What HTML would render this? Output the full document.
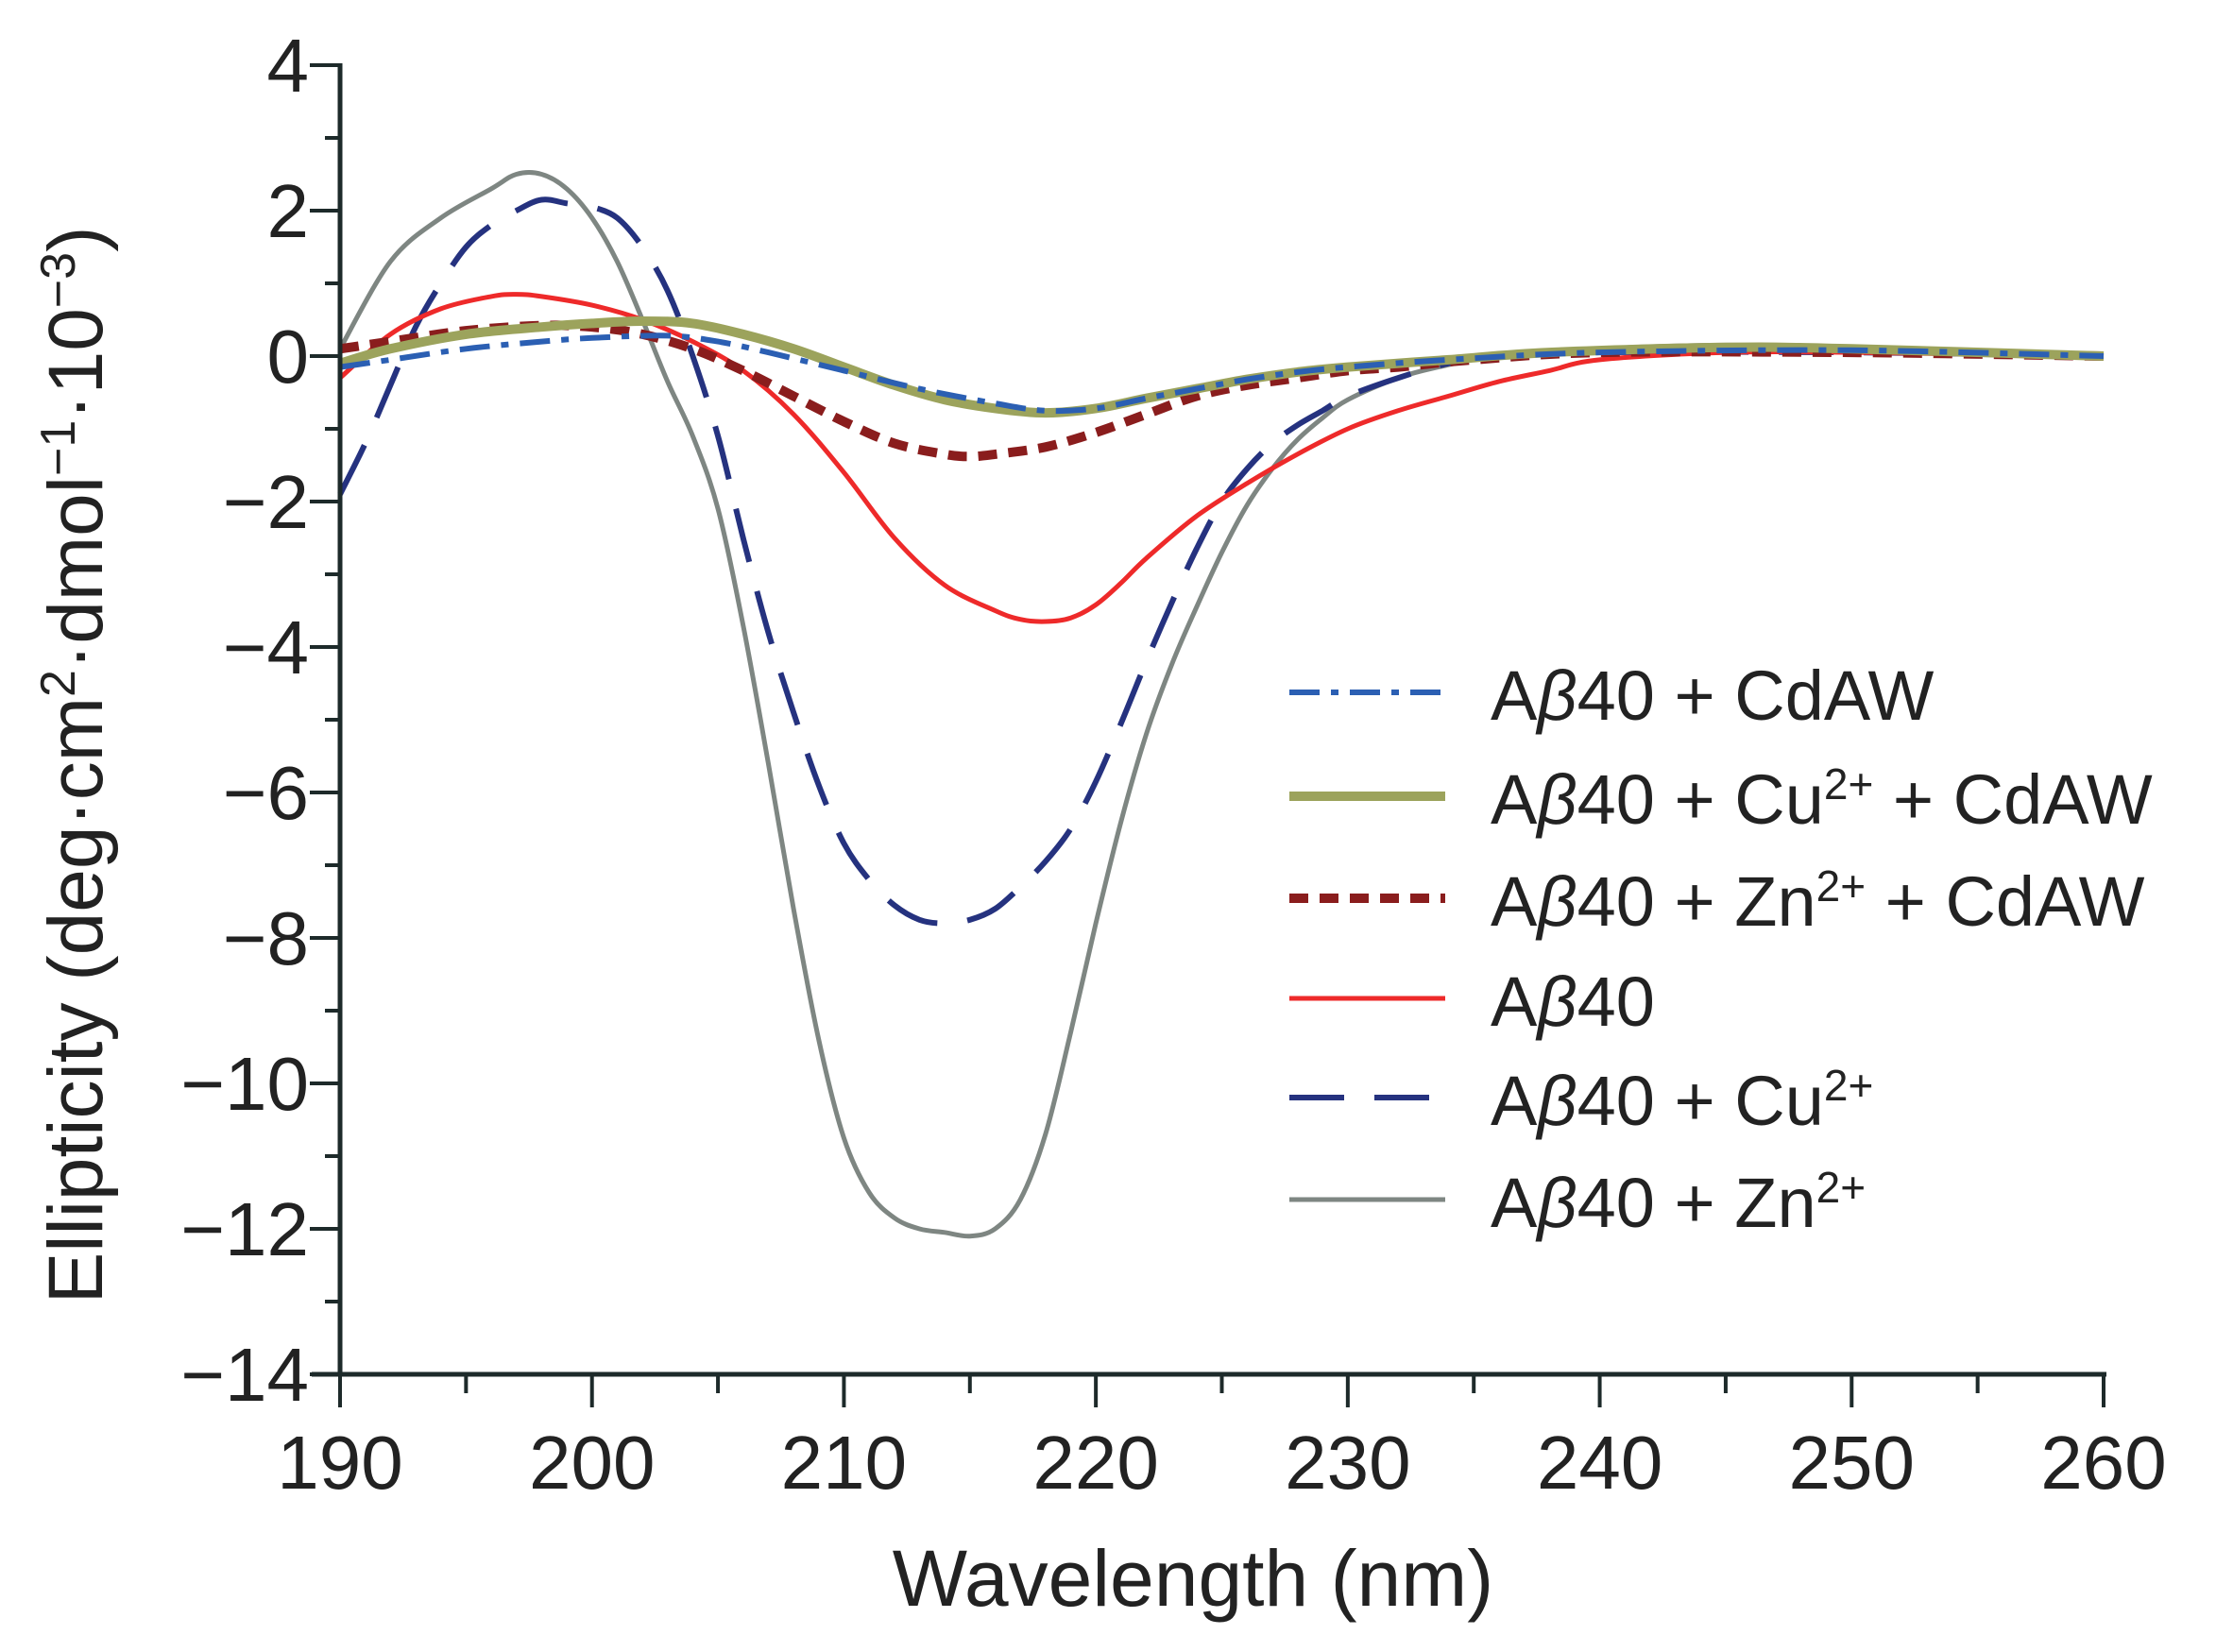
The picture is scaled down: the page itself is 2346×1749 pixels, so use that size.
<!DOCTYPE html>
<html><head><meta charset="utf-8"><style>
html,body{margin:0;padding:0;background:#fff;}
svg{display:block;font-family:"Liberation Sans",sans-serif;}
</style></head><body>
<svg id="chart" width="2346" height="1749" viewBox="0 0 2346 1749" xmlns="http://www.w3.org/2000/svg">
<g id="series"></g>
<g id="axes"></g>
<g id="legend"></g>
<text x="1263" y="1700" font-size="84" text-anchor="middle" fill="#222">Wavelength (nm)</text>
<text transform="translate(108,810) rotate(-90)" font-size="82" text-anchor="middle" fill="#222">Ellipticity (deg·cm<tspan baseline-shift="super" font-size="52">2</tspan>·dmol<tspan baseline-shift="super" font-size="52">−1</tspan>·10<tspan baseline-shift="super" font-size="52">−3</tspan>)</text>
</svg>
<script>
const xTicks=[190,200,210,220,230,240,250,260];
const yTicks=[4,2,0,-2,-4,-6,-8,-10,-12,-14];
const seriesNames=["Aβ40 + CdAW","Aβ40 + Cu2+ + CdAW","Aβ40 + Zn2+ + CdAW","Aβ40","Aβ40 + Cu2+","Aβ40 + Zn2+"];
const cdawX=[190,192,195,198,200,203,205,207,210,213,216,218,220,222,224,226,228,230,234,240,250,260];
const cdawY=[-0.15,-0.05,0.1,0.2,0.25,0.28,0.2,0.05,-0.2,-0.45,-0.65,-0.75,-0.72,-0.58,-0.45,-0.32,-0.22,-0.15,-0.05,0.05,0.08,0];
const cuCdawX=[190,192,195,198,200,202,204,206,208,210,212,214,216,218,220,222,224,226,228,230,234,238,245,250,260];
const cuCdawY=[-0.1,0.1,0.3,0.4,0.45,0.48,0.45,0.3,0.1,-0.15,-0.4,-0.6,-0.72,-0.78,-0.72,-0.58,-0.45,-0.32,-0.22,-0.15,-0.05,0.05,0.12,0.1,0];
const znCdawX=[190,192,195,198,200,202,204,206,208,210,212,214,215,216,218,220,222,224,226,228,230,232,235,240,250,260];
const znCdawY=[0.1,0.2,0.35,0.42,0.4,0.3,0.1,-0.2,-0.55,-0.9,-1.2,-1.35,-1.38,-1.35,-1.25,-1.05,-0.8,-0.55,-0.4,-0.3,-0.2,-0.15,-0.05,0.05,0.05,0];
const abX=[190,192,194,196,197,198,200,202,204,206,208,210,212,214,216,217,218,219,220,221,222,224,226,228,230,232,234,236,238,240,245,250,260];
const abY=[-0.3,0.3,0.65,0.82,0.85,0.82,0.7,0.5,0.2,-0.2,-0.8,-1.6,-2.5,-3.15,-3.5,-3.62,-3.65,-3.6,-3.42,-3.12,-2.78,-2.2,-1.75,-1.35,-1.0,-0.75,-0.55,-0.35,-0.2,-0.05,0.05,0.05,0];
const cuX=[190,191,192,193,194,195,196,197,198,199,200,201,202,203,204,205,206,207,208,209,210,211,212,213,214,215,216,217,218,219,220,221,222,223,224,225,226,227,228,229,230,232,234,236,240,250,260];
const cuY=[-1.9,-1.2,-0.4,0.4,1.0,1.5,1.8,2.0,2.15,2.1,2.05,1.9,1.5,0.9,0.0,-1.1,-2.5,-3.8,-4.9,-5.9,-6.7,-7.2,-7.55,-7.75,-7.8,-7.75,-7.6,-7.3,-6.95,-6.5,-5.85,-5.05,-4.2,-3.4,-2.65,-2.0,-1.55,-1.2,-0.95,-0.75,-0.55,-0.3,-0.1,0.0,0.05,0.05,0];
const znX=[190,192,194,196,197,198,199,200,201,202,203,204,205,206,207,208,209,210,211,212,213,214,215,216,217,218,219,220,221,222,223,224,225,226,227,228,229,230,232,234,236,240,245,250,255,260];
const znY=[0.1,1.3,1.9,2.3,2.5,2.5,2.3,1.9,1.3,0.5,-0.35,-1.1,-2.1,-3.7,-5.6,-7.6,-9.4,-10.75,-11.5,-11.85,-12.0,-12.05,-12.1,-12.0,-11.6,-10.7,-9.3,-7.8,-6.4,-5.2,-4.25,-3.45,-2.7,-2.05,-1.55,-1.15,-0.85,-0.6,-0.3,-0.12,0.0,0.1,0.15,0.12,0.05,0];

const X0=360,X1=2227,Y0=377,PPU=77;
function sx(v){return X0+(v-190)*(X1-X0)/70;}
function sy(v){return Y0-v*PPU;}
const NS="http://www.w3.org/2000/svg";
function mk(tag,attrs,parent){const e=document.createElementNS(NS,tag);for(const k in attrs)e.setAttribute(k,attrs[k]);parent.appendChild(e);return e;}
function pathD(xs,ys){
  const p=xs.map((x,i)=>[sx(x),sy(ys[i])]);
  let d="M"+p[0][0].toFixed(1)+","+p[0][1].toFixed(1);
  for(let i=0;i<p.length-1;i++){
    const a=p[Math.max(0,i-1)],b=p[i],c=p[i+1],e=p[Math.min(p.length-1,i+2)];
    const c1=[b[0]+(c[0]-a[0])/6,b[1]+(c[1]-a[1])/6],c2=[c[0]-(e[0]-b[0])/6,c[1]-(e[1]-b[1])/6];
    d+=" C"+c1[0].toFixed(1)+","+c1[1].toFixed(1)+" "+c2[0].toFixed(1)+","+c2[1].toFixed(1)+" "+c[0].toFixed(1)+","+c[1].toFixed(1);
  }
  return d;
}
const styles=[
 {c:"#2b5fb3",w:6,da:"32 12 8 12"},
 {c:"#9ca35c",w:10,da:""},
 {c:"#8a1d1d",w:10,da:"20 12"},
 {c:"#ee2a2a",w:5,da:""},
 {c:"#25327f",w:6,da:"58 32"},
 {c:"#7e8682",w:5,da:""}];
const data=[[cdawX,cdawY],[cuCdawX,cuCdawY],[znCdawX,znCdawY],[abX,abY],[cuX,cuY],[znX,znY]];
const sg=document.getElementById("series");
const names=["series-cdaw","series-cu-cdaw","series-zn-cdaw","series-abeta40","series-cu","series-zn"];
const order=[5,4,3,2,1,0];
order.forEach(i=>{
  const p=mk("path",{d:pathD(data[i][0],data[i][1]),fill:"none",stroke:styles[i].c,"stroke-width":styles[i].w,"stroke-dasharray":styles[i].da,"stroke-linejoin":"round"},sg);
  
  
});
const ag=document.getElementById("axes");
const ax="#1d2a2a";
let l=mk("line",{x1:X0,y1:sy(4)-2,x2:X0,y2:sy(-14)+2,stroke:ax,"stroke-width":5},ag);


l=mk("line",{x1:X0-30,y1:sy(-14),x2:X1+3,y2:sy(-14),stroke:ax,"stroke-width":5},ag);


for(let v=-14;v<=4;v++){
  const major=v%2===0;
  const t=mk("line",{x1:X0-(major?32:16),y1:sy(v),x2:X0,y2:sy(v),stroke:ax,"stroke-width":4},ag);
  
  
}
yTicks.forEach(v=>{
  const t=mk("text",{x:327,y:sy(v)+28,"font-size":80,"text-anchor":"end",fill:"#222"},ag);
  t.textContent=(v<0?"\u2212":"")+Math.abs(v);
  
  
});
for(let v=190;v<=260;v+=5){
  const major=v%10===0;
  const t=mk("line",{x1:sx(v),y1:sy(-14),x2:sx(v),y2:sy(-14)+(major?35:20),stroke:ax,"stroke-width":4},ag);
  
  
}
xTicks.forEach(v=>{
  const t=mk("text",{x:sx(v),y:1576,"font-size":80,"text-anchor":"middle",fill:"#222"},ag);
  t.textContent=v;
  
  
});
const lg=document.getElementById("legend");
const rowsY=[738,848,956,1062,1167,1275];
const legendItems=[0,1,2,3,4,5];
legendItems.forEach((i,k)=>{
  const y=rowsY[k];
  const ln=mk("line",{x1:1365,y1:y-5,x2:1530,y2:y-5,stroke:styles[i].c,"stroke-width":styles[i].w,"stroke-dasharray":styles[i].da},lg);
  
  
  const t=mk("text",{x:1578,y:y+24,"font-size":74,fill:"#222"},lg);
  
  
  const nm=seriesNames[i];
  const m=nm.match(/^(A)β(40)(.*)$/);
  let html="A<tspan font-style='italic'>β</tspan>40";
  let rest=m[3].replace(/(Cu|Zn)2\+/,"$1<tspan baseline-shift='super' font-size='46'>2+</tspan>");
  t.innerHTML=html+rest;
});
</script>
</body></html>
